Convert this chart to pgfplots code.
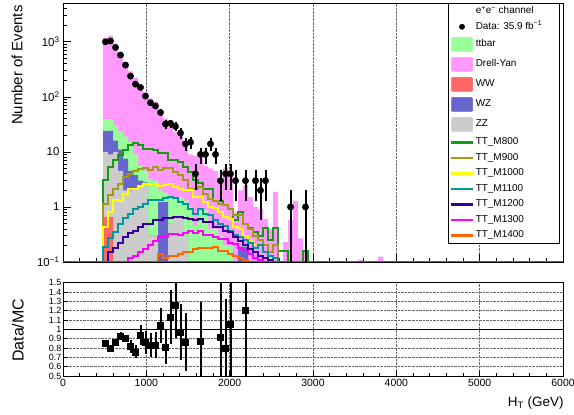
\documentclass[border=0pt]{standalone}
\usepackage{fontspec}
\setmainfont{Liberation Sans}
\usepackage{pgfplots}
\pgfplotsset{compat=1.18}
\usepackage{pgfplotstable}

\definecolor{ttcol}{RGB}{153,255,153}
\definecolor{dycol}{RGB}{255,153,255}
\definecolor{wwcol}{RGB}{255,102,102}
\definecolor{wzcol}{RGB}{102,102,204}
\definecolor{zzcol}{RGB}{204,204,204}
\definecolor{sigeight}{RGB}{20,155,20}
\definecolor{signine}{RGB}{160,155,20}
\definecolor{sigten}{RGB}{255,255,0}
\definecolor{sigeleven}{RGB}{0,153,153}
\definecolor{sigtwelve}{RGB}{51,0,153}
\definecolor{sigthirteen}{RGB}{255,0,255}
\definecolor{sigfourteen}{RGB}{255,102,0}
\definecolor{basecol}{RGB}{160,80,40}

% backgrounds: left bin edge, cumulative tops
\pgfplotstableread{
e tot tt wz zz ww
420 0.001 0.001 0.001 0.001 0.001
480 1180 39 24 10 0.66
540 1290 39 24 9 0.66
600 920 30 16 10 0.001
660 620 23 11 4.5 0.001
720 420 19 7.5 2.0 0.001
780 290 15 4.5 2.0 0.001
840 224 9 3.8 2.2 0.001
900 157 5.5 3.0 2.5 0.001
960 120 4.5 2.8 2.5 0.001
1020 94 3.2 0.3 0.3 0.001
1080 82 3.0 0.3 0.3 0.001
1140 50 2.0 1.23 0.001 0.001
1200 40 1.8 1.23 0.001 0.001
1260 29 1.5 0.5 0.5 0.001
1320 23 1.5 0.66 0.66 0.001
1380 23 1.5 0.66 0.66 0.001
1440 16 1.3 0.3 0.3 0.001
1500 9 1.0 0.001 0.001 0.001
1560 8.5 0.45 0.001 0.001 0.001
1620 10 0.87 0.001 0.001 0.001
1680 5.5 0.87 0.001 0.001 0.001
1740 5.0 0.4 0.001 0.001 0.001
1800 4.5 0.4 0.001 0.001 0.001
1860 3.3 0.3 0.001 0.001 0.001
1920 5.0 0.2 0.001 0.001 0.001
1980 3.8 0.2 0.001 0.001 0.001
2040 0.8 0.001 0.001 0.001 0.001
2100 2.0 0.19 0.19 0.001 0.001
2160 2.5 0.19 0.19 0.001 0.001
2220 1.5 0.001 0.001 0.001 0.001
2280 1.0 0.001 0.001 0.001 0.001
2340 0.9 0.001 0.001 0.001 0.001
2400 0.6 0.001 0.001 0.001 0.001
2460 0.4 0.001 0.001 0.001 0.001
2520 1.88 0.001 0.001 0.001 0.001
2580 0.001 0.001 0.001 0.001 0.001
2640 0.23 0.001 0.001 0.001 0.001
2700 0.58 0.001 0.001 0.001 0.001
2760 1.29 0.001 0.001 0.001 0.001
2820 0.27 0.001 0.001 0.001 0.001
2880 0.15 0.001 0.001 0.001 0.001
2940 0.001 0.001 0.001 0.001 0.001
3540 0.11 0.001 0.001 0.001 0.001
3600 0.001 0.001 0.001 0.001 0.001
3780 0.125 0.001 0.001 0.001 0.001
3840 0.001 0.001 0.001 0.001 0.001
3900 0.001 0.001 0.001 0.001 0.001
}\bkg

\pgfplotstableread{
c n ep em
510 1000 31.6 31.6
570 1030 32.1 32.1
630 790 28.1 28.1
690 573 23.9 23.9
750 377 19.4 19.4
810 238 15.4 15.4
870 170 13.0 13.0
930 148 12.2 12.2
990 103 10.1 10.1
1050 78 8.8 8.8
1110 68 8.2 8.2
1170 52 7.2 7.2
1230 32 5.7 5.7
1290 33 5.7 5.7
1350 29 5.4 5.4
1410 22 4.7 4.7
1470 14 3.7 3.7
1530 15 3.9 3.9
1590 4 2 2
1650 9 3 3
1710 9 3 3
1770 14 3.7 3.7
1830 9 3 3
1890 3 1.73 1.73
1950 4 2 2
2010 4 2 2
2070 3 1.73 1.73
2190 3 1.73 1.73
2310 3 1.73 1.73
2370 2 1.41 1.41
2430 3 1.73 1.73
2730 1 1 0.999
2910 1 1 0.999
}\data

\pgfplotstableread{
c r e
510 0.85 0.03
570 0.80 0.03
630 0.86 0.03
690 0.93 0.04
750 0.90 0.04
810 0.82 0.07
870 0.76 0.07
930 0.94 0.11
990 0.86 0.12
1050 0.83 0.13
1110 0.83 0.14
1170 1.04 0.19
1230 0.81 0.18
1290 1.13 0.29
1350 1.26 0.35
1410 0.97 0.30
1470 0.86 0.31
1650 0.87 0.42
1890 0.92 0.70
1950 0.80 0.53
2010 1.05 0.60
2190 1.21 0.90
}\ratio

\pgfplotstableread{
e v
420 0.001
480 3.1
540 5.3
600 7.1
660 8.7
720 10.7
780 13.2
840 14.3
900 13.2
960 11.5
1020 11.5
1080 10.7
1140 9.4
1200 9.4
1260 7.1
1320 7.1
1380 6.6
1440 5.3
1500 4.3
1560 3.1
1620 2.7
1680 2.16
1740 2.16
1800 1.3
1860 1.3
1920 1.07
1980 0.9
2040 0.58
2100 0.8
2160 0.5
2220 0.41
2280 0.35
2340 0.3
2400 0.41
2460 0.25
2520 0.41
2580 0.16
2640 0.16
2700 0.001
2880 0.16
2940 0.001
3000 0.001
}\sA

\pgfplotstableread{
e v
420 0.001
480 1.15
540 1.63
600 2.16
660 2.66
720 3.5
780 3.9
840 4.5
900 4.8
960 5.0
1020 4.7
1080 5.3
1140 4.7
1200 5.0
1260 5.0
1320 4.3
1380 3.8
1440 3.06
1500 2.16
1560 2.16
1620 2.3
1680 1.75
1740 1.42
1800 1.3
1860 1.15
1920 1.1
1980 0.93
2040 0.71
2100 0.71
2160 0.5
2220 0.4
2280 0.3
2340 0.25
2400 0.2
2460 0.15
2520 0.2
2580 0.001
2640 0.001
}\sB

\pgfplotstableread{
e v
420 0.001
480 0.43
540 0.81
600 1.32
660 1.3
720 1.75
780 2.16
840 2.16
900 2.38
960 2.66
1020 2.66
1080 2.66
1140 2.38
1200 2.5
1260 2.66
1320 2.3
1380 2.16
1440 2.0
1500 2.0
1560 1.5
1620 1.5
1680 1.23
1740 1.0
1800 0.95
1860 0.81
1920 0.66
1980 0.6
2040 0.43
2100 0.4
2160 0.3
2220 0.25
2280 0.2
2340 0.2
2400 0.15
2460 0.12
2520 0.001
2580 0.001
}\sC

\pgfplotstableread{
e v
420 0.001
480 0.19
540 0.27
600 0.35
660 0.5
720 0.62
780 0.76
840 0.93
900 1.0
960 1.15
1020 1.32
1080 1.32
1140 1.32
1200 1.48
1260 1.5
1320 1.45
1380 1.23
1440 1.15
1500 0.93
1560 0.76
1620 0.93
1680 0.76
1740 0.7
1800 0.58
1860 0.5
1920 0.45
1980 0.37
2040 0.31
2100 0.28
2160 0.25
2220 0.22
2280 0.18
2340 0.2
2400 0.15
2460 0.13
2520 0.12
2580 0.001
2640 0.001
}\sD

\pgfplotstableread{
e v
480 0.001
540 0.15
600 0.18
660 0.22
720 0.28
780 0.33
840 0.37
900 0.43
960 0.5
1020 0.5
1080 0.58
1140 0.58
1200 0.62
1260 0.64
1320 0.66
1380 0.66
1440 0.64
1500 0.6
1560 0.58
1620 0.6
1680 0.53
1740 0.53
1800 0.43
1860 0.43
1920 0.37
1980 0.35
2040 0.28
2100 0.24
2160 0.2
2220 0.17
2280 0.15
2340 0.13
2400 0.12
2460 0.11
2520 0.001
2580 0.001
}\sE

\pgfplotstableread{
e v
660 0.001
720 0.1
780 0.12
840 0.13
900 0.15
960 0.17
1020 0.2
1080 0.24
1140 0.28
1200 0.29
1260 0.32
1320 0.32
1380 0.31
1440 0.33
1500 0.36
1560 0.34
1620 0.37
1680 0.31
1740 0.31
1800 0.28
1860 0.26
1920 0.26
1980 0.22
2040 0.21
2100 0.18
2160 0.16
2220 0.14
2280 0.12
2340 0.11
2400 0.1
2460 0.001
2520 0.001
}\sF

\pgfplotstableread{
e v
1080 0.001
1140 0.14
1200 0.12
1260 0.13
1320 0.13
1380 0.14
1440 0.15
1500 0.15
1560 0.17
1620 0.18
1680 0.18
1740 0.18
1800 0.19
1860 0.16
1920 0.16
1980 0.14
2040 0.13
2100 0.12
2160 0.11
2220 0.001
2280 0.001
}\sG

\begin{document}
\begin{tikzpicture}
\useasboundingbox (0,0) rectangle (574bp,415bp);
\pgfplotsset{
  rootaxis/.style={
    scale only axis, width=500bp, xmin=0, xmax=6000,
    tick align=inside, tick pos=left,
    axis line style={line width=0.8bp},
    major tick length=8bp, minor tick length=4bp,
    every tick/.style={black, line width=0.6bp},
    xtick={0,1000,2000,3000,4000,5000,6000},
    minor x tick num=4,
    /pgf/number format/assume math mode=true,
  },
  sig/.style={const plot mark left, line width=2bp, forget plot},
}
% ---------------- upper pad ----------------
\begin{axis}[rootaxis,
  at={(63bp,153bp)}, anchor=south west, height=259bp,
  ymode=log, ymin=0.1, ymax=5060,
  xticklabels={},
  xmajorgrids, grid style={densely dotted, black!60, line width=0.6bp},
  ytick={0.1,1,10,100,1000},
  yticklabels={10\textsuperscript{−1},1,10,10\textsuperscript{2},10\textsuperscript{3}},
  minor ytick={0.2,0.3,0.4,0.5,0.6,0.7,0.8,0.9,2,3,4,5,6,7,8,9,20,30,40,50,60,70,80,90,200,300,400,500,600,700,800,900,2000,3000,4000,5000},
  yticklabel style={font=\fontsize{11.5}{13}\selectfont},
  ylabel={Number of Events},
  every axis y label/.style={at={(axis description cs:-0.092,0.76)}, rotate=90, anchor=center, font=\fontsize{15}{18}\selectfont},
  legend style={at={(rel axis cs:0.77,1)}, anchor=north west, draw=black, line width=0.5bp,
    fill=white, font=\fontsize{10}{12}\selectfont, inner xsep=3bp, inner ysep=3bp,
    row sep=5.5bp, column sep=3bp,
    nodes={inner sep=0bp, text height=7.5bp, text depth=2.5bp}},
  legend cell align=left,
]
\addplot[fill=dycol, draw=none, const plot mark left, forget plot] table[x=e,y=tot]{\bkg};
\addplot[fill=ttcol, draw=none, const plot mark left, forget plot] table[x=e,y=tt]{\bkg};
\addplot[fill=wzcol, draw=none, const plot mark left, forget plot] table[x=e,y=wz]{\bkg};
\addplot[fill=zzcol, draw=none, const plot mark left, forget plot] table[x=e,y=zz]{\bkg};
\addplot[fill=wwcol, draw=none, const plot mark left, forget plot] table[x=e,y=ww]{\bkg};

\addplot[sig, color=sigeight] table[x=e,y=v]{\sA};
\addplot[sig, color=signine] table[x=e,y=v]{\sB};
\addplot[sig, color=sigten] table[x=e,y=v]{\sC};
\addplot[sig, color=sigeleven] table[x=e,y=v]{\sD};
\addplot[sig, color=sigtwelve] table[x=e,y=v]{\sE};
\addplot[sig, color=sigthirteen] table[x=e,y=v]{\sF};
\addplot[sig, color=sigfourteen] table[x=e,y=v]{\sG};

\addplot[color=basecol, line width=2.5bp, forget plot] coordinates {(0,0.1) (6000,0.1)};

\addplot[only marks, mark=*, mark size=3.2bp, black, forget plot,
  error bars/.cd, y dir=both, y explicit, error mark=none,
  error bar style={line width=2bp, black}]
  table[x=c, y=n, y error plus=ep, y error minus=em]{\data};

\addlegendimage{legend image code/.code={}}
\addlegendentry{e\textsuperscript{+}e\textsuperscript{−} channel\hspace*{16bp}}
\addlegendimage{legend image code/.code={\fill[black] (10.5bp,0bp) circle (2.6bp);}}
\addlegendentry{Data: 35.9 fb\textsuperscript{−1}\hspace*{14bp}}
\addlegendimage{legend image code/.code={\fill[ttcol, rounded corners=1bp] (0bp,-7bp) rectangle (21bp,7bp);}}
\addlegendentry{ttbar}
\addlegendimage{legend image code/.code={\fill[dycol, rounded corners=1bp] (0bp,-7bp) rectangle (21bp,7bp);}}
\addlegendentry{Drell-Yan}
\addlegendimage{legend image code/.code={\fill[wwcol, rounded corners=1bp] (0bp,-7bp) rectangle (21bp,7bp);}}
\addlegendentry{WW}
\addlegendimage{legend image code/.code={\fill[wzcol, rounded corners=1bp] (0bp,-7bp) rectangle (21bp,7bp);}}
\addlegendentry{WZ}
\addlegendimage{legend image code/.code={\fill[zzcol, rounded corners=1bp] (0bp,-7bp) rectangle (21bp,7bp);}}
\addlegendentry{ZZ}
\addlegendimage{legend image code/.code={\fill[sigeight] (0bp,-0.8bp) rectangle (21bp,0.8bp);}}
\addlegendentry{TT\_M800}
\addlegendimage{legend image code/.code={\fill[signine] (0bp,-0.8bp) rectangle (21bp,0.8bp);}}
\addlegendentry{TT\_M900}
\addlegendimage{legend image code/.code={\fill[sigten] (0bp,-0.8bp) rectangle (21bp,0.8bp);}}
\addlegendentry{TT\_M1000}
\addlegendimage{legend image code/.code={\fill[sigeleven] (0bp,-0.8bp) rectangle (21bp,0.8bp);}}
\addlegendentry{TT\_M1100}
\addlegendimage{legend image code/.code={\fill[sigtwelve] (0bp,-0.8bp) rectangle (21bp,0.8bp);}}
\addlegendentry{TT\_M1200}
\addlegendimage{legend image code/.code={\fill[sigthirteen] (0bp,-0.8bp) rectangle (21bp,0.8bp);}}
\addlegendentry{TT\_M1300}
\addlegendimage{legend image code/.code={\fill[sigfourteen] (0bp,-0.8bp) rectangle (21bp,0.8bp);}}
\addlegendentry{TT\_M1400}
\end{axis}

% ---------------- ratio pad ----------------
\begin{axis}[rootaxis,
  at={(63bp,39bp)}, anchor=south west, height=93.3bp,
  ymin=0.5, ymax=1.5,
  major tick length=5bp, minor tick length=2.5bp,
  xticklabels={0,1000,2000,3000,4000,5000,6000},
  xticklabel style={font=\fontsize{10.5}{12}\selectfont},
  ytick={0.5,0.6,0.7,0.8,0.9,1,1.1,1.2,1.3,1.4,1.5},
  yticklabels={0.5,0.6,0.7,0.8,0.9,1,1.1,1.2,1.3,1.4,1.5},
  yticklabel style={font=\fontsize{9}{9}\selectfont, inner xsep=1.5bp},
  xmajorgrids, ymajorgrids,
  grid style={densely dotted, black!60, line width=0.6bp},
  xlabel={H\textsubscript{T} (GeV)},
  every axis x label/.style={at={(axis description cs:1,0)}, anchor=north east, yshift=-17.5bp, xshift=4bp, font=\fontsize{13.5}{16}\selectfont},
  ylabel={Data/MC},
  every axis y label/.style={at={(axis description cs:-0.09,0.49)}, rotate=90, anchor=center, font=\fontsize{16}{19}\selectfont},
]
\addplot[black, line width=1.5bp] coordinates {(0,1) (6000,1)};
\addplot[only marks, mark=square*, mark size=3bp, black,
  error bars/.cd, y dir=both, y explicit, error mark=none,
  error bar style={line width=2bp, black}]
  table[x=c, y=r, y error=e]{\ratio};
\end{axis}
\end{tikzpicture}
\end{document}
